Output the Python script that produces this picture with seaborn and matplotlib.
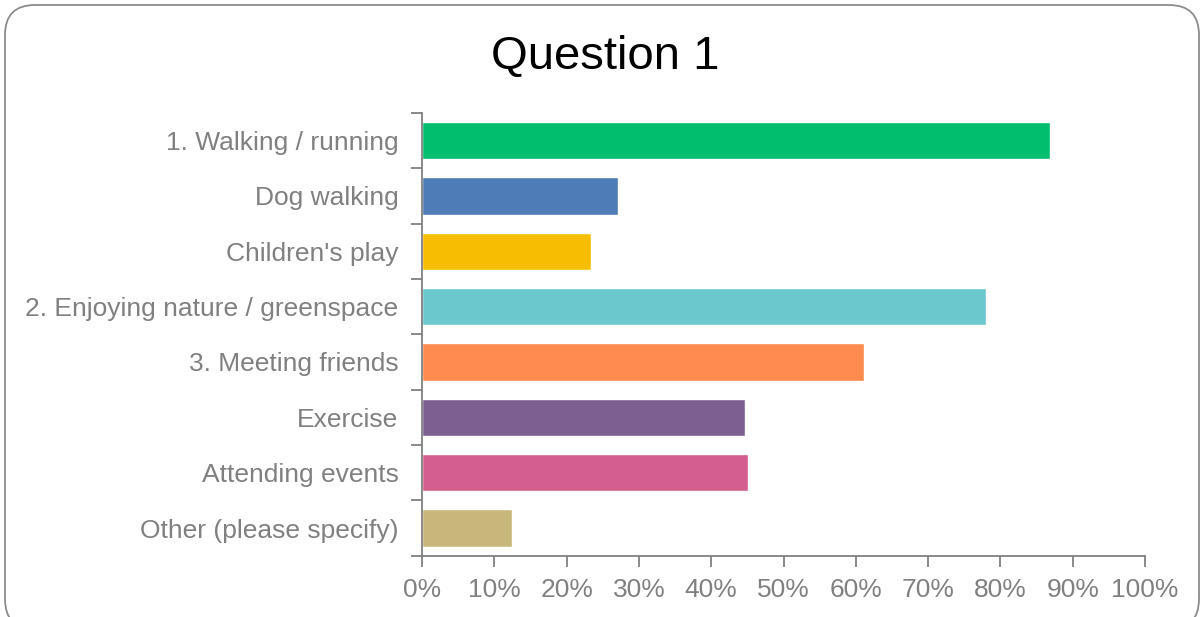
import matplotlib
matplotlib.use("Agg")
import matplotlib.pyplot as plt
import seaborn as sns
import pandas as pd
from matplotlib.patches import FancyBboxPatch
from matplotlib.ticker import PercentFormatter, FixedLocator

categories = ["1. Walking / running", "Dog walking", "Children's play",
              "2. Enjoying nature / greenspace", "3. Meeting friends",
              "Exercise", "Attending events", "Other (please specify)"]
values = [86.9, 27.1, 23.4, 78.0, 61.1, 44.7, 45.1, 12.4]
colors = ["#00be6e", "#4e7cb6", "#f7bd00", "#6bc8cc", "#ff8c4e",
          "#7d5f91", "#d45f8e", "#c8b77a"]

df = pd.DataFrame({"category": categories, "value": values})

sns.set_theme(style="white")
plt.rcParams['font.family'] = ['Liberation Sans', 'DejaVu Sans']

fig = plt.figure(figsize=(12.03, 6.17), dpi=100)
ax = fig.add_axes([0.3508, 0.0994, 0.6010, 0.7175])

sns.barplot(data=df, y="category", x="value", hue="category", palette=colors,
            legend=False, width=0.67, saturation=1, ax=ax)

grey = "#808080"
ax.set_xlim(0, 100)
ax.set_ylim(len(categories) - 0.5, -0.5)
ax.xaxis.set_major_locator(FixedLocator(range(0, 101, 10)))
ax.xaxis.set_major_formatter(PercentFormatter(decimals=0))
ax.set_xlabel("")
ax.set_ylabel("")

# ticks on the category boundaries
ax.set_yticks([i + 0.5 for i in range(-1, len(categories))], minor=True)
ax.tick_params(axis="y", which="minor", length=8, width=1.3, color=grey, left=True)
ax.tick_params(axis="y", which="major", length=0, pad=17, labelsize=19, labelcolor=grey)
ax.tick_params(axis="x", which="major", length=8, width=1.3, color=grey, bottom=True,
               labelsize=19, labelcolor=grey, pad=8)

for s in ["top", "right"]:
    ax.spines[s].set_visible(False)
for s in ["left", "bottom"]:
    ax.spines[s].set_color(grey)
    ax.spines[s].set_linewidth(1.3)

fig.text(0.503, 0.908, "Question 1", ha="center", va="center", fontsize=34, color="black")

# rounded frame around the chart (pixel coordinates)
frame = FancyBboxPatch((5, -12), 1194, 624, boxstyle="round,pad=0,rounding_size=30",
                       transform=None, facecolor="none", edgecolor="#8c8c8c",
                       linewidth=1.3, figure=fig)
fig.patches.append(frame)

fig.savefig("out.png", dpi=100)
